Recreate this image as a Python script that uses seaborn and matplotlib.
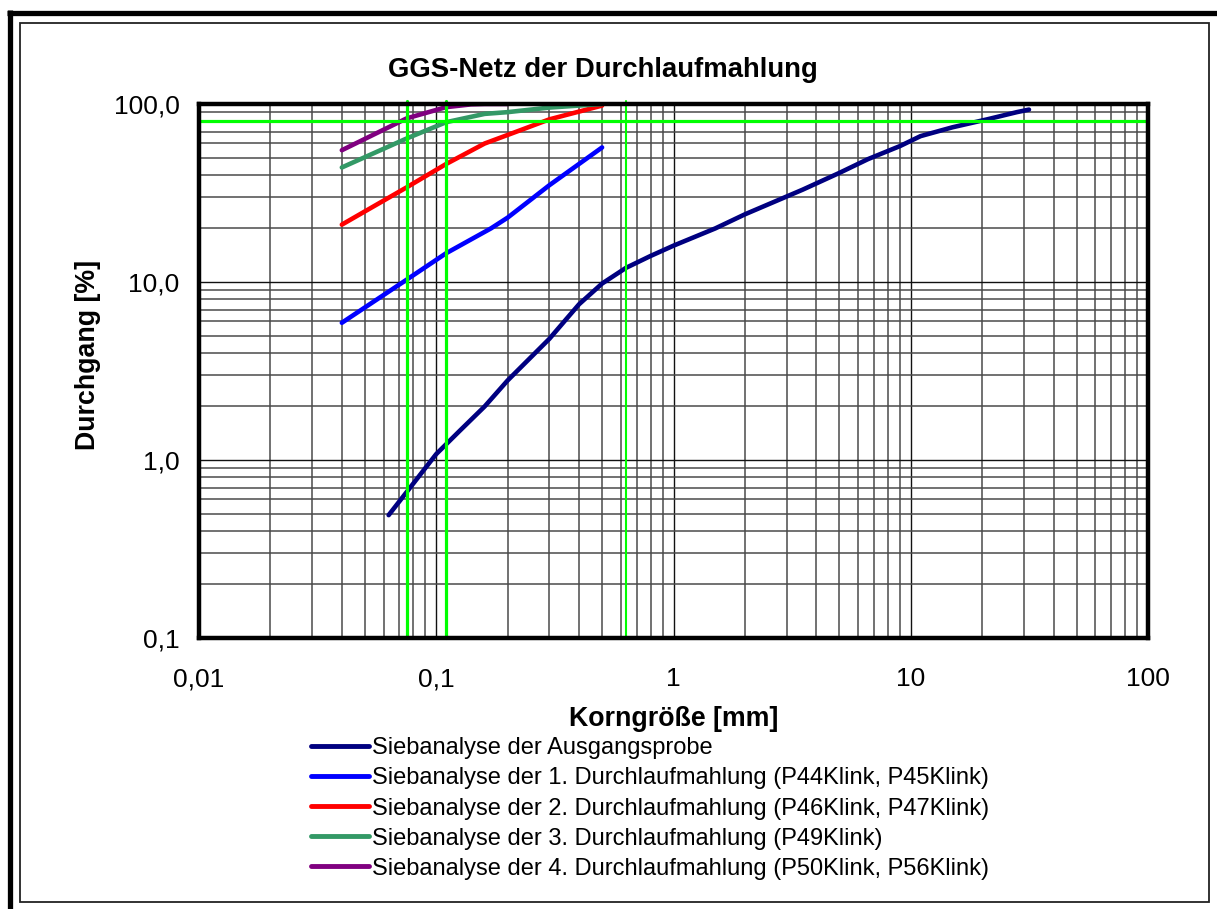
import matplotlib
matplotlib.use("Agg")
import matplotlib.pyplot as plt
import matplotlib.ticker as mticker
from matplotlib.lines import Line2D
from matplotlib.patches import Rectangle
import numpy as np
import pandas as pd
import seaborn as sns

# ---------------- data ----------------
labels = [
    "Siebanalyse der Ausgangsprobe",
    "Siebanalyse der 1. Durchlaufmahlung (P44Klink, P45Klink)",
    "Siebanalyse der 2. Durchlaufmahlung (P46Klink, P47Klink)",
    "Siebanalyse der 3. Durchlaufmahlung (P49Klink)",
    "Siebanalyse der 4. Durchlaufmahlung (P50Klink, P56Klink)",
]
colors = ["#000080", "#0000FF", "#FF0000", "#339966", "#800080"]

x0 = [0.063, 0.075, 0.1, 0.125, 0.16, 0.2, 0.3, 0.35, 0.4, 0.5, 0.63, 0.8, 1.0,
      1.5, 2.0, 3.5, 5.0, 6.6, 9.0, 11.0, 15.0, 21.0, 28.0, 31.5]
y0 = [0.49, 0.66, 1.08, 1.45, 2.0, 2.8, 4.8, 6.1, 7.5, 9.8, 12.0, 14.0, 16.0,
      20.0, 24.0, 33.0, 41.0, 49.0, 58.0, 66.0, 74.0, 82.0, 90.0, 93.0]
x1 = [0.04, 0.075, 0.11, 0.17, 0.2, 0.3, 0.5]
y1 = [5.9, 10.3, 14.5, 20.0, 23.0, 35.0, 57.0]
x2 = [0.04, 0.075, 0.11, 0.16, 0.2, 0.3, 0.5]
y2 = [21.0, 34.0, 46.0, 60.0, 67.0, 82.0, 98.0]
x3 = [0.04, 0.075, 0.11, 0.16, 0.2, 0.3, 0.5]
y3 = [44.0, 64.0, 79.0, 88.0, 90.0, 95.5, 100.0]
x4 = [0.04, 0.075, 0.11, 0.14, 0.16, 0.2]
y4 = [55.0, 83.0, 96.0, 99.5, 100.0, 100.0]

green_x = [0.075, 0.11, 0.63]
green_y = [80.0]

xticks = [0.01, 0.1, 1, 10, 100]
xticklabels = ["0,01", "0,1", "1", "10", "100"]
yticks = [0.1, 1, 10, 100]
yticklabels = ["0,1", "1,0", "10,0", "100,0"]

title = "GGS-Netz der Durchlaufmahlung"
xlabel = "Korngröße [mm]"
ylabel = "Durchgang [%]"

# ---------------- build ----------------
xs = [x0, x1, x2, x3, x4]
ys = [y0, y1, y2, y3, y4]
frames = []
for lab, xx, yy in zip(labels, xs, ys):
    frames.append(pd.DataFrame({"x": xx, "y": yy, "serie": lab}))
df = pd.concat(frames, ignore_index=True)

sns.set_style("white")
plt.rcParams["font.family"] = ["Liberation Sans", "DejaVu Sans"]
plt.rcParams["text.color"] = "black"
plt.rcParams["axes.labelcolor"] = "black"
plt.rcParams["xtick.color"] = "black"
plt.rcParams["ytick.color"] = "black"

W, H = 1217, 909
fig = plt.figure(figsize=(W / 100, H / 100), dpi=100)

# outer frames
fig.add_artist(Line2D([7 / W, 1], [1 - 12.5 / H, 1 - 12.5 / H], color="black", lw=3.8,
                      transform=fig.transFigure, solid_capstyle="butt"))
fig.add_artist(Line2D([9.5 / W, 9.5 / W], [0, 1 - 10 / H], color="black", lw=3.8,
                      transform=fig.transFigure, solid_capstyle="butt"))
fig.add_artist(Rectangle((20 / W, 1 - 902 / H), (1209 - 20) / W, (902 - 23) / H,
                         transform=fig.transFigure, fill=False, edgecolor="#222222", lw=1.3))

L, R, T, B = 199, 1148, 104, 638
ax = fig.add_axes([L / W, 1 - B / H, (R - L) / W, (B - T) / H])

sns.lineplot(data=df, x="x", y="y", hue="serie", palette=dict(zip(labels, colors)),
             sort=False, estimator=None, units="serie", lw=3.3, ax=ax, legend=False,
             zorder=3)
for ln in ax.get_lines():
    ln.set_solid_capstyle("round")

ax.set_xscale("log")
ax.set_yscale("log")
ax.set_xlim(0.01, 100)
ax.set_ylim(0.1, 100)

ax.grid(True, which="major", color="#111111", lw=1.0)
ax.grid(True, which="minor", color="#4a4a4a", lw=1.1)
ax.xaxis.set_minor_locator(mticker.LogLocator(base=10, subs=np.arange(2, 10)))
ax.yaxis.set_minor_locator(mticker.LogLocator(base=10, subs=np.arange(2, 10)))
ax.xaxis.set_minor_formatter(mticker.NullFormatter())
ax.yaxis.set_minor_formatter(mticker.NullFormatter())

ax.set_xticks(xticks)
ax.set_xticklabels(xticklabels)
ax.set_yticks(yticks)
ax.set_yticklabels(yticklabels)
ax.tick_params(axis="both", which="major", direction="out", length=9, width=1.2,
               color="#333333", labelsize=19)
ax.tick_params(axis="x", which="major", pad=12)
ax.tick_params(axis="y", which="major", pad=5)
ax.tick_params(axis="both", which="minor", length=0)

for sp in ax.spines.values():
    sp.set_linewidth(3.2)
    sp.set_color("black")
    sp.set_zorder(5)

# green reference lines
for gx, lw in zip(green_x, [2.3, 2.3, 1.5]):
    ax.plot([gx, gx], [0.1, 104], color="#00FF00", lw=lw, zorder=4, clip_on=False)
for gy in green_y:
    ax.axhline(gy, color="#00FF00", lw=2.3, zorder=4)

fig.text(603 / W, 1 - 70 / H, title, ha="center", va="center",
         fontsize=19.8, fontweight="bold")
ax.set_xlabel(xlabel, fontsize=19.3, fontweight="bold", labelpad=11)
ax.set_ylabel(ylabel, fontsize=19.3, fontweight="bold")
ax.yaxis.set_label_coords(-0.103, 0.53)

handles = [Line2D([0], [0], color=c, lw=3.5) for c in colors]
fig.legend(handles, labels, loc="upper left", bbox_to_anchor=(302 / W, 1 - 728 / H),
           frameon=False, fontsize=17, handlelength=2.45, handletextpad=0.12,
           labelspacing=0.34, borderaxespad=0)

fig.savefig("out.png", dpi=100)
